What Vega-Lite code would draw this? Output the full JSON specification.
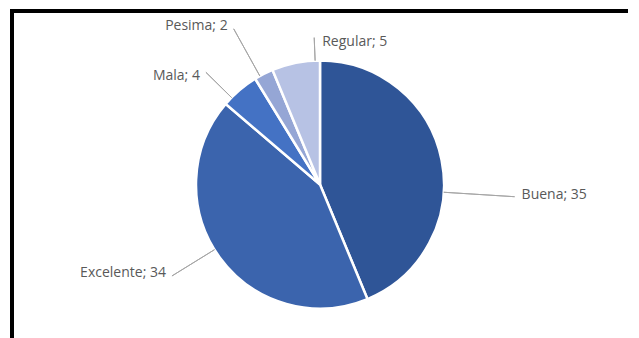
{
  "$schema": "https://vega.github.io/schema/vega-lite/v6.json",
  "autosize": "none",
  "width": 616,
  "height": 347,
  "padding": {"left": 12, "top": 11, "right": 0, "bottom": 0},
  "background": "white",
  "view": {"stroke": "#000000", "strokeWidth": 4, "strokeDash": [616, 963, 347, 0], "strokeCap": "square", "fill": null},
  "config": {
    "style": {"cell": {"stroke": "#000000", "strokeWidth": 4, "strokeDash": [616, 963, 347, 0], "strokeCap": "square"}},
    "text": {"font": "Open Sans", "fontSize": 14, "fill": "#595959"}
  },
  "data": {
    "values": [
      {"cat": "Buena", "n": 35, "label": "Buena; 35"},
      {"cat": "Excelente", "n": 34, "label": "Excelente; 34"},
      {"cat": "Mala", "n": 4, "label": "Mala; 4"},
      {"cat": "Pesima", "n": 2, "label": "Pesima; 2"},
      {"cat": "Regular", "n": 5, "label": "Regular; 5"}
    ]
  },
  "encoding": {
    "theta": {"field": "n", "type": "quantitative", "stack": true},
    "detail": {"field": "cat", "type": "nominal"}
  },
  "layer": [
    {
      "mark": {"type": "arc", "outerRadius": 124, "stroke": "#ffffff", "strokeWidth": 2.5},
      "encoding": {
        "color": {
          "field": "cat", "type": "nominal", "legend": null,
          "scale": {"domain": ["Buena", "Excelente", "Mala", "Pesima", "Regular"],
                    "range": ["#2F5597", "#3B64AD", "#4472C4", "#95A6D5", "#B7C2E4"]}
        }
      }
    },
    {
      "mark": {"type": "arc", "innerRadius": 124, "outerRadius": 195, "padAngle": 3.2, "fillOpacity": 0, "stroke": "#A6A6A6", "strokeWidth": 1, "thetaOffset": 0.259, "theta2Offset": 0.259},
      "encoding": {"strokeOpacity": {"condition": {"test": "datum.cat === 'Buena'", "value": 1}, "value": 0}}
    },
    {
      "mark": {"type": "arc", "innerRadius": 124, "outerRadius": 174, "padAngle": 3.2, "fillOpacity": 0, "stroke": "#A6A6A6", "strokeWidth": 1, "thetaOffset": 0.075, "theta2Offset": 0.075},
      "encoding": {"strokeOpacity": {"condition": {"test": "datum.cat === 'Excelente'", "value": 1}, "value": 0}}
    },
    {
      "mark": {"type": "arc", "innerRadius": 124, "outerRadius": 160, "padAngle": 3.2, "fillOpacity": 0, "stroke": "#A6A6A6", "strokeWidth": 1, "thetaOffset": -0.087, "theta2Offset": -0.087},
      "encoding": {"strokeOpacity": {"condition": {"test": "datum.cat === 'Mala'", "value": 1}, "value": 0}}
    },
    {
      "mark": {"type": "arc", "innerRadius": 124, "outerRadius": 178, "padAngle": 3.2, "fillOpacity": 0, "stroke": "#A6A6A6", "strokeWidth": 1, "thetaOffset": -0.035, "theta2Offset": -0.035},
      "encoding": {"strokeOpacity": {"condition": {"test": "datum.cat === 'Pesima'", "value": 1}, "value": 0}}
    },
    {
      "mark": {"type": "arc", "innerRadius": 124, "outerRadius": 147, "padAngle": 3.2, "fillOpacity": 0, "stroke": "#A6A6A6", "strokeWidth": 1, "thetaOffset": 0.157, "theta2Offset": 0.157},
      "encoding": {"strokeOpacity": {"condition": {"test": "datum.cat === 'Regular'", "value": 1}, "value": 0}}
    },
    {
      "mark": {"type": "text", "radius": 195, "thetaOffset": 0.259, "align": "left", "baseline": "middle", "dx": 7, "dy": -2},
      "encoding": {"text": {"condition": {"test": "datum.cat === 'Buena'", "field": "label"}, "value": ""}}
    },
    {
      "mark": {"type": "text", "radius": 174, "thetaOffset": 0.075, "align": "right", "baseline": "middle", "dx": -6, "dy": -3},
      "encoding": {"text": {"condition": {"test": "datum.cat === 'Excelente'", "field": "label"}, "value": ""}}
    },
    {
      "mark": {"type": "text", "radius": 160, "thetaOffset": -0.087, "align": "right", "baseline": "middle", "dx": -6, "dy": 4},
      "encoding": {"text": {"condition": {"test": "datum.cat === 'Mala'", "field": "label"}, "value": ""}}
    },
    {
      "mark": {"type": "text", "radius": 178, "thetaOffset": -0.035, "align": "right", "baseline": "middle", "dx": -6, "dy": -3},
      "encoding": {"text": {"condition": {"test": "datum.cat === 'Pesima'", "field": "label"}, "value": ""}}
    },
    {
      "mark": {"type": "text", "radius": 147, "thetaOffset": 0.157, "align": "left", "baseline": "middle", "dx": 8, "dy": 4},
      "encoding": {"text": {"condition": {"test": "datum.cat === 'Regular'", "field": "label"}, "value": ""}}
    }
  ]
}
